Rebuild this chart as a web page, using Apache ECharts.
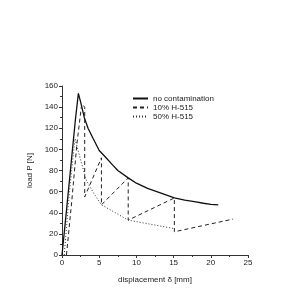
<!DOCTYPE html>
<html><head><meta charset="utf-8">
<script src="https://cdn.jsdelivr.net/npm/echarts@6/dist/echarts.min.js"></script>
<style>html,body{margin:0;padding:0;background:#fff}#c{width:299px;height:296px}</style>
</head><body><div id="c"></div>
<script>
const seriesNames = ['no contamination', '10% H-515', '50% H-515'];
const noContX = [0, 0.6, 1.2, 1.8, 2.2, 2.5, 3.0, 3.5, 4.2, 5.0, 5.8, 6.7, 7.5, 8.9, 10.0, 11.5, 13.5, 15.1, 16.5, 17.8, 19.0, 20.0, 21.0];
const noContY = [0, 42, 85, 128, 153, 145, 130, 120, 110, 99, 93, 86, 80, 73, 68, 63, 58, 54, 52, 50.5, 49, 48, 47.5];
const h10X = [0.6, 1.3, 2.0, 2.65, 3.05, 3.05, 5.3, 5.3, 8.9, 8.9, 15.1, 15.1, 23.0];
const h10Y = [0, 50, 105, 143, 140, 55, 92, 47.5, 73, 33, 54, 22, 34];
const h50X = [0.3, 1.0, 1.75, 2.5, 3.3, 4.4, 5.3, 8.9, 15.1];
const h50Y = [0, 60, 110, 90, 70, 57, 47.5, 33, 25];
const xTicks = [0, 5, 10, 15, 20, 25];
const yTicks = [0, 20, 40, 60, 80, 100, 120, 140, 160];

function zip(xs, ys) { return xs.map((x, i) => [x, ys[i]]); }
const font = 'Liberation Sans';
const axisCol = '#333';
const chart = echarts.init(document.getElementById('c'), null, {renderer: 'canvas'});
const axisCommon = {
  axisLine: {show: true, onZero: false, lineStyle: {color: axisCol, width: 1}},
  axisTick: {show: true, inside: false, length: 3, lineStyle: {color: axisCol}},
  minorTick: {show: true, splitNumber: 2, length: 2, lineStyle: {color: axisCol}},
  splitLine: {show: false},
  axisLabel: {color: '#222', fontFamily: font, fontSize: 8, margin: 4},
  nameTextStyle: {color: '#222', fontFamily: font, fontSize: 8}
};
chart.setOption({
  animation: false,
  backgroundColor: '#fff',
  grid: {left: 62, right: 51, top: 86, bottom: 41},
  legend: {
    orient: 'vertical', left: 127, top: 89,
    itemWidth: 15, itemHeight: 9, itemGap: 0,
    itemStyle: {opacity: 0},
    textStyle: {fontFamily: font, fontSize: 8, color: '#222', lineHeight: 9},
    data: seriesNames
  },
  xAxis: Object.assign({}, axisCommon, {
    type: 'value', min: xTicks[0], max: xTicks[xTicks.length - 1], interval: 5,
    name: 'displacement δ [mm]', nameLocation: 'middle', nameGap: 21
  }),
  yAxis: Object.assign({}, axisCommon, {
    type: 'value', min: yTicks[0], max: yTicks[yTicks.length - 1], interval: 20,
    name: 'load P [N]', nameLocation: 'middle', nameGap: 24
  }),
  series: [
    {name: seriesNames[0], type: 'line', symbol: 'none', data: zip(noContX, noContY),
     lineStyle: {color: '#111', width: 1.3, type: 'solid'}, itemStyle: {color: '#111'}},
    {name: seriesNames[1], type: 'line', symbol: 'none', data: zip(h10X, h10Y),
     lineStyle: {color: '#222', width: 1, type: [4, 3]}, itemStyle: {color: '#222'}},
    {name: seriesNames[2], type: 'line', symbol: 'none', data: zip(h50X, h50Y),
     lineStyle: {color: '#333', width: 1, type: [1, 2]}, itemStyle: {color: '#333'}}
  ]
});
</script></body></html>
